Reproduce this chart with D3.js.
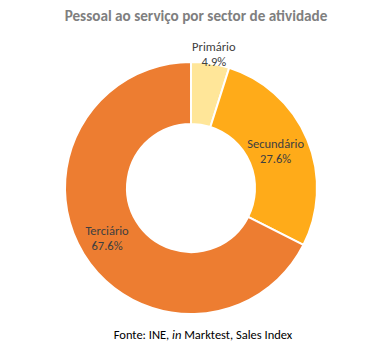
<!DOCTYPE html>
<html><head><meta charset="utf-8">
<script src="https://cdn.jsdelivr.net/npm/d3@7"></script>
<style>html,body{margin:0;padding:0;background:#fff;}svg{display:block;}</style>
</head><body>
<svg id="c" width="373" height="345"></svg>
<script>
const categories = ["Primário", "Secundário", "Terciário"];
const values = [4.9, 27.6, 67.6];
const colors = ["#FFE699", "#FFAB19", "#ED7D31"];
const title = "Pessoal ao serviço por sector de atividade";

const W = 373, H = 345, cx = 191, cy = 188, R = 126, r = 64;
const font = "Calibri, Carlito, Lato, 'Open Sans', sans-serif";
const svg = d3.select("#c");

svg.append("text").attr("x", 196).attr("y", 21).attr("text-anchor", "middle")
  .attr("font-family", font).attr("font-size", 15.2).attr("font-weight", "bold")
  .attr("fill", "#7F7F7F").text(title);

const data = categories.map((c, i) => ({cat: c, v: values[i], col: colors[i]}));
const pie = d3.pie().value(d => d.v).sort(null);
const arc = d3.arc().innerRadius(r).outerRadius(R);
const g = svg.append("g").attr("transform", `translate(${cx},${cy})`);
const arcs = pie(data);
g.selectAll("path").data(arcs).join("path")
  .attr("d", arc).attr("fill", d => d.data.col)
  .attr("stroke", "#fff").attr("stroke-width", 2);

const lab = g.selectAll("g.lab").data(arcs).join("g").attr("class", "lab")
  .attr("transform", d => {
    const a = (d.startAngle + d.endAngle) / 2;
    const rr = d.data.v < 10 ? 136 : (R + r) / 2;
    const dx = d.data.v < 10 ? 2 : -3;
    return `translate(${rr * Math.sin(a) + dx},${-rr * Math.cos(a)})`;
  });
lab.append("text").attr("text-anchor", "middle").attr("y", -3)
  .attr("font-family", font).attr("font-size", 12.5).attr("fill", "#404040")
  .text(d => d.data.cat);
lab.append("text").attr("text-anchor", "middle").attr("y", 12)
  .attr("font-family", font).attr("font-size", 12.5).attr("fill", "#404040")
  .text(d => d.data.v.toFixed(1) + "%");

const foot = svg.append("text").attr("x", 203).attr("y", 339).attr("text-anchor", "middle")
  .attr("font-family", font).attr("font-size", 12.5).attr("fill", "#000");
foot.append("tspan").text("Fonte: INE, ");
foot.append("tspan").attr("font-style", "italic").text("in");
foot.append("tspan").text(" Marktest, Sales Index");
</script>
</body></html>
